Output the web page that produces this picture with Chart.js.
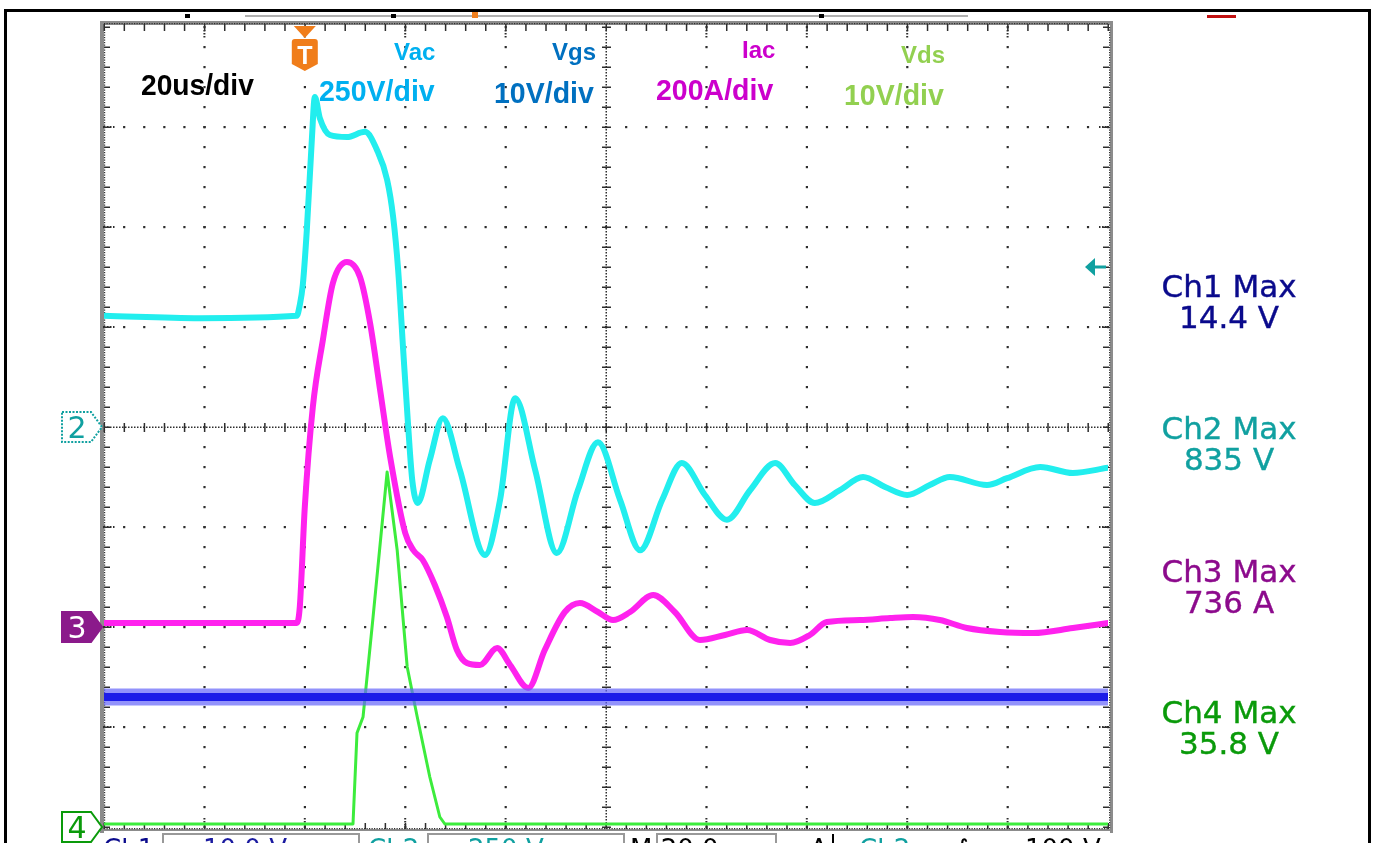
<!DOCTYPE html>
<html lang="en">
<head>
  <meta charset="UTF-8" />
  <title>Vac / Iac / Vgs / Vds waveforms</title>
  <style>
    body {
      margin: 0;
      background: #fff;
      width: 1375px;
      height: 843px;
      overflow: hidden;
      position: relative;
    }

    canvas {
      position: absolute;
      left: 0;
      top: 0;
    }

    .lbl {
      position: absolute;
      font-family: 'Liberation Sans', Arial, sans-serif;
      font-weight: bold;
      line-height: 1;
      white-space: nowrap;
      transform-origin: 0 0;
    }

    .big { font-size: 30px; transform: scaleX(0.95); }
    .small { font-size: 24px; }

    .meas {
      position: absolute;
      left: 1129px;
      width: 200px;
      text-align: center;
      font-family: 'DejaVu Sans', sans-serif;
      font-size: 31px;
      line-height: 31px;
      -webkit-text-stroke: 0.4px currentColor;
    }

    .mark {
      position: absolute;
      left: 62px;
      width: 30px;
      text-align: center;
      font-family: 'DejaVu Sans', sans-serif;
      font-size: 30px;
      line-height: 1;
    }

    .bar {
      position: absolute;
      top: 836px;
      font-family: 'DejaVu Sans', sans-serif;
      font-size: 26px;
      line-height: 1;
      white-space: nowrap;
    }
  </style>
</head>
<body>
  <canvas id="scope" width="1375" height="843"></canvas>

  <div class="lbl big" style="left:141px; top:70px; color:#000; transform:scaleX(0.94)">20us/div</div>
  <div class="lbl small" style="left:394px; top:40px; color:#00b0f0">Vac</div>
  <div class="lbl big" style="left:319px; top:76px; color:#00b0f0">250V/div</div>
  <div class="lbl small" style="left:552px; top:40px; color:#0070c0">Vgs</div>
  <div class="lbl big" style="left:494px; top:78px; color:#0070c0">10V/div</div>
  <div class="lbl small" style="left:742px; top:38px; color:#cc00cc">Iac</div>
  <div class="lbl big" style="left:656px; top:75px; color:#cc00cc">200A/div</div>
  <div class="lbl small" style="left:901px; top:43px; color:#92d050">Vds</div>
  <div class="lbl big" style="left:844px; top:80px; color:#92d050">10V/div</div>

  <div class="lbl" style="left:296px; top:43px; width:18px; text-align:center; font-size:25px; color:#fff">T</div>

  <div class="meas" style="top:271px; color:#0a0a8c">Ch1 Max<br>14.4 V</div>
  <div class="meas" style="top:413px; color:#10a0a0">Ch2 Max<br>835 V</div>
  <div class="meas" style="top:556px; color:#8c0a8c">Ch3 Max<br>736 A</div>
  <div class="meas" style="top:697px; color:#0a9a0a">Ch4 Max<br>35.8 V</div>

  <div class="mark" style="top:413px; color:#10a0a0">2</div>
  <div class="mark" style="top:613px; color:#fff">3</div>
  <div class="mark" style="top:813px; color:#0a9a0a">4</div>

  <div class="bar" style="left:103px; color:#0a0a8c">Ch1</div>
  <div class="bar" style="left:203px; color:#1a1aa0">10.0 V</div>
  <div class="bar" style="left:368px; color:#10a0a0">Ch2</div>
  <div class="bar" style="left:468px; color:#10a0a0">250 V</div>
  <div class="bar" style="left:630px; color:#000">M 20.0µs</div>
  <div class="bar" style="left:810px; color:#000">A</div>
  <div class="bar" style="left:859px; color:#10a0a0">Ch2</div>
  <div class="bar" style="left:955px; color:#000">∫</div>
  <div class="bar" style="left:1025px; color:#000">100 V</div>

  <script src="https://cdn.jsdelivr.net/npm/chart.js"></script>
  <script>
    // time in us (trigger at 0), 20 us/div, 10 divisions
    const vacTimeUs = [-40, -20.9, -1.6, -1.0, -0.4, 0.4, 1.4, 2.0, 3.0, 5.0, 8.4, 12.0, 14.4, 16.4, 17.6,
      18.6, 19.6, 20.6, 21.4, 22.5, 24.9, 27.5, 30.9, 35.9, 38.9, 41.9, 45.9, 50.2, 54.4, 58.4,
      62.8, 66.8, 71.2, 75.1, 79.7, 84.1, 88.7, 93.7, 97.6, 101.6, 106.6, 111.2, 115.6, 120.0, 124.5,
      128.5, 135.9, 139.9, 146.5, 153.0, 160];
    const vacVolts = [278, 272, 278, 305, 355, 492, 718, 825, 772, 730, 725, 738, 692, 618, 525,
      392, 192, 0, -132, -190, -82, 22, -108, -320, -182, 72, -108, -315, -158, -38,
      -182, -308, -182, -90, -170, -232, -158, -90, -145, -190, -158, -125, -150, -170, -145,
      -125, -145, -128, -100, -115, -102];

    const iacTimeUs = [-40, -1.6, -1.0, 0.0, 1.6, 3.6, 5.6, 8.4, 11.0, 13.0, 15.0, 17.0, 20.0, 21.6, 23.5,
      25.9, 28.3, 30.3, 32.3, 34.9, 38.3, 40.9, 44.5, 47.8, 51.8, 54.8, 58.4, 61.4, 64.8, 69.4,
      73.7, 78.7, 83.7, 88.1, 92.7, 96.7, 100.6, 104.0, 110.6, 116.6, 121.2, 126.5, 131.9, 138.5, 145.1,
      153.0, 160];
    const iacAmps = [8, 8, 40, 240, 440, 574, 688, 730, 700, 608, 474, 340, 188, 154, 134,
      84, 20, -46, -72, -76, -42, -76, -122, -46, 30, 48, 30, 14, 30, 64,
      30, -26, -16, -6, -26, -32, -16, 10, 14, 18, 20, 14, -2, -10, -12,
      -2, 8];

    const vdsTimeUs = [-40, 9.6, 10.4, 11.6, 13.6, 16.4, 18.4, 20.4, 22.4, 24.9, 26.9, 27.9, 160];
    const vdsVolts = [0.3, 0.3, 9.4, 11.0, 21.0, 35.5, 27.7, 16.0, 11.0, 5.0, 1.0, 0.3, 0.3];

    const vgsTimeUs = [-40, 160];
    const vgsVolts = [13, 13];

    // per channel (Ch1..Ch4): units per division and ground position in divisions
    const unitsPerDiv = [10, 250, 200, 10];
    const groundDiv = [-4, 0, -2, -4];

    function toPoints(times, values, ch) {
      return times.map((t, i) => ({ x: t, y: values[i] / unitsPerDiv[ch] + groundDiv[ch] }));
    }

    // scope graticule, frame, markers
    const scopeFrame = {
      id: 'scopeFrame',
      beforeDatasetsDraw(chart) {
        const { ctx, chartArea: a, scales: { x, y } } = chart;
        ctx.save();
        const xs = [], ys = [];
        for (let t = -40; t <= 160; t += 20) xs.push(x.getPixelForValue(t));
        for (let d = -4; d <= 4; d++) ys.push(y.getPixelForValue(d));
        const sx = (xs[1] - xs[0]) / 5, sy = (ys[0] - ys[1]) / 5;
        const w = a.right - a.left, h = a.bottom - a.top;

        // grey frame
        ctx.fillStyle = '#8c8c8c';
        ctx.fillRect(a.left - 4, a.top - 6, w + 9, 4);
        ctx.fillRect(a.left - 4, a.top - 6, 4, h + 12);
        ctx.fillRect(a.right + 2, a.top - 6, 3, h + 12);
        ctx.fillRect(a.left - 4, a.bottom + 2, w + 9, 2);

        ctx.fillStyle = '#2e2e2e';
        // dotted grid lines
        xs.forEach((px, i) => {
          if (i === 0 || i === 5 || i === 10) return;
          for (let k = 0; k <= 40; k++) ctx.fillRect(px - 1, a.top + k * sy - 1, 2.2, 2.2);
        });
        ys.forEach((py, j) => {
          if (j === 0 || j === 4 || j === 8) return;
          for (let k = 0; k <= 50; k++) ctx.fillRect(a.left + k * sx - 1, py - 1, 2.2, 2.2);
          for (let k = 1; k <= 3; k++) {
            ctx.fillRect(a.left + k * 3, py - 1, 1.5, 2);
            ctx.fillRect(a.right - k * 3, py - 1, 1.5, 2);
          }
        });
        xs.forEach((px, i) => {
          if (i === 0 || i === 5 || i === 10) return;
          for (let k = 1; k <= 3; k++) {
            ctx.fillRect(px - 1, a.top + k * 3, 2, 1.5);
            ctx.fillRect(px - 1, a.bottom - k * 3, 2, 1.5);
          }
        });

        // centre lines: dense dots + ticks
        const cx = xs[5], cy = ys[4];
        for (let yy = a.top; yy <= a.bottom; yy += 3) ctx.fillRect(cx - 0.5, yy, 1.5, 1.5);
        for (let xx = a.left; xx <= a.right; xx += 3) ctx.fillRect(xx, cy - 0.5, 1.5, 1.5);
        for (let k = 0; k <= 40; k++) ctx.fillRect(cx - 4, a.top + k * sy - 0.5, 9, 1.5);
        for (let k = 0; k <= 50; k++) ctx.fillRect(a.left + k * sx - 0.5, cy - 4, 1.5, 9);

        // edges: dense dots + inward ticks
        for (let xx = a.left; xx <= a.right; xx += 2.5) {
          ctx.fillRect(xx, a.top - 4, 1.2, 1.2);
          ctx.fillRect(xx, a.bottom + 1, 1.2, 1.2);
        }
        for (let yy = a.top; yy <= a.bottom; yy += 2.5) {
          ctx.fillRect(a.left, yy, 1.2, 1.2);
          ctx.fillRect(a.right + 1, yy, 1.2, 1.2);
        }
        for (let k = 0; k <= 50; k++) {
          ctx.fillRect(a.left + k * sx - 0.5, a.top - 3, 1.5, 7);
          ctx.fillRect(a.left + k * sx - 0.5, a.bottom - 4, 1.5, 6);
        }
        for (let k = 0; k <= 40; k++) {
          ctx.fillRect(a.left, a.top + k * sy - 0.5, 6, 1.5);
          ctx.fillRect(a.right - 5, a.top + k * sy - 0.5, 6, 1.5);
        }
        ctx.restore();
      },
      afterDraw(chart) {
        const { ctx, chartArea: a, scales: { x, y } } = chart;
        ctx.save();
        // outer border
        ctx.strokeStyle = '#000';
        ctx.lineWidth = 3;
        ctx.strokeRect(5.5, 10.5, 1364, 860);

        // header remnants
        ctx.fillStyle = '#b0b0b0';
        ctx.fillRect(245, 15, 723, 2);
        ctx.fillStyle = '#000';
        ctx.fillRect(185, 14, 5, 4);
        ctx.fillRect(391, 14, 5, 4);
        ctx.fillRect(819, 14, 5, 4);
        ctx.fillStyle = '#f08020';
        ctx.fillRect(472, 12, 6, 6);
        ctx.fillStyle = '#c01010';
        ctx.fillRect(1207, 15, 29, 3);

        // trigger marker
        const tx = x.getPixelForValue(0);
        ctx.fillStyle = '#f07d1a';
        ctx.beginPath();
        ctx.moveTo(tx - 11, a.top - 1);
        ctx.lineTo(tx + 11, a.top - 1);
        ctx.lineTo(tx, a.top + 11);
        ctx.closePath();
        ctx.fill();
        ctx.beginPath();
        ctx.moveTo(tx - 13, 42);
        ctx.quadraticCurveTo(tx - 13, 39, tx - 10, 39);
        ctx.lineTo(tx + 10, 39);
        ctx.quadraticCurveTo(tx + 13, 39, tx + 13, 42);
        ctx.lineTo(tx + 13, 64);
        ctx.lineTo(tx, 71);
        ctx.lineTo(tx - 13, 64);
        ctx.closePath();
        ctx.fill();

        // channel ground markers
        function marker(py, stroke, fill, dashed) {
          ctx.beginPath();
          ctx.moveTo(62, py - 15);
          ctx.lineTo(91, py - 15);
          ctx.lineTo(102, py);
          ctx.lineTo(91, py + 15);
          ctx.lineTo(62, py + 15);
          ctx.closePath();
          ctx.fillStyle = fill;
          ctx.fill();
          ctx.lineWidth = 2;
          ctx.strokeStyle = stroke;
          ctx.setLineDash(dashed ? [2, 1.5] : []);
          ctx.stroke();
          ctx.setLineDash([]);
        }
        marker(y.getPixelForValue(groundDiv[1]), '#10a0a0', '#fff', true);
        marker(y.getPixelForValue(groundDiv[2]), '#8b1a8b', '#8b1a8b', false);
        marker(y.getPixelForValue(groundDiv[3]), '#0a9a0a', '#fff', false);

        // trigger level arrow
        const ly = 267;
        ctx.fillStyle = '#10a0a0';
        ctx.beginPath();
        ctx.moveTo(1085, ly);
        ctx.lineTo(1095, ly - 9);
        ctx.lineTo(1095, ly + 9);
        ctx.closePath();
        ctx.fill();
        ctx.fillRect(1094, ly - 1.5, 12, 3);

        // status bar boxes
        ctx.strokeStyle = '#999';
        ctx.lineWidth = 2;
        ctx.strokeRect(163, 834, 196, 30);
        ctx.strokeRect(428, 834, 196, 30);
        ctx.strokeRect(657, 834, 119, 30);
        ctx.fillStyle = '#000';
        ctx.fillRect(832, 834, 2, 12);
        ctx.restore();
      }
    };

    const common = { pointRadius: 0, fill: false, borderJoinStyle: 'round', borderCapStyle: 'round' };

    new Chart(document.getElementById('scope'), {
      type: 'line',
      data: {
        datasets: [
          { ...common, label: 'Vgs band', data: toPoints(vgsTimeUs, vgsVolts, 0), borderColor: 'rgba(100,100,250,0.7)', borderWidth: 17, order: 1 },
          { ...common, label: 'Vgs', data: toPoints(vgsTimeUs, vgsVolts, 0), borderColor: '#1c1ce8', borderWidth: 8, order: 0 },
          { ...common, label: 'Vac', data: toPoints(vacTimeUs, vacVolts, 1), borderColor: '#22eeee', borderWidth: 6, cubicInterpolationMode: 'monotone', order: 2 },
          { ...common, label: 'Iac', data: toPoints(iacTimeUs, iacAmps, 2), borderColor: '#ff22ee', borderWidth: 6, cubicInterpolationMode: 'monotone', order: 3 },
          { ...common, label: 'Vds', data: toPoints(vdsTimeUs, vdsVolts, 3), borderColor: '#3cec3c', borderWidth: 3, order: 4 }
        ]
      },
      options: {
        responsive: false,
        animation: false,
        layout: { padding: { left: 104, right: 267, top: 27, bottom: 16 } },
        scales: {
          x: { type: 'linear', min: -40, max: 160, display: false },
          y: { min: -4, max: 4, display: false }
        },
        plugins: { legend: { display: false }, tooltip: { enabled: false } }
      },
      plugins: [scopeFrame]
    });
  </script>
</body>
</html>
